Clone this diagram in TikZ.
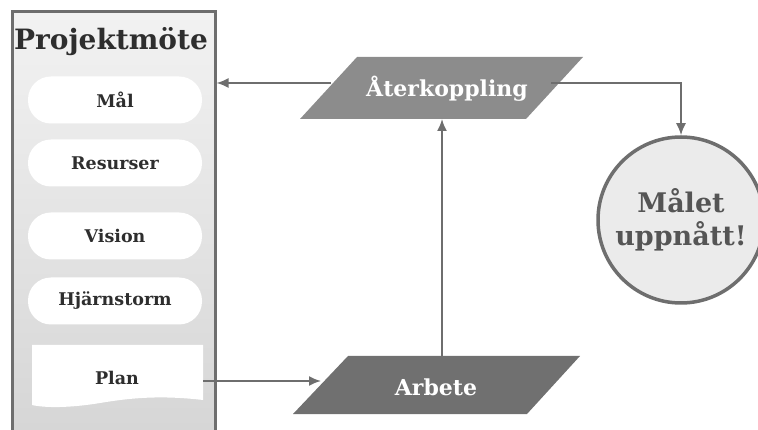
\documentclass[tikz,border=0pt]{standalone}
\usepackage{fontspec}
\setmainfont{DejaVu Serif}
\usetikzlibrary{arrows.meta}
\definecolor{edgegray}{HTML}{6E6E6E}
\definecolor{paraA}{HTML}{8C8C8C}
\definecolor{paraB}{HTML}{707070}
\definecolor{txtdark}{HTML}{2E2E2E}
\definecolor{circtxt}{HTML}{555555}
\definecolor{circfill}{HTML}{EBEBEB}
\definecolor{panTop}{HTML}{F2F2F2}
\definecolor{panBot}{HTML}{D6D6D6}
\tikzset{
  pill/.style={fill=white, rounded corners=23pt, minimum width=174pt, minimum height=47pt, inner sep=0pt,
    font=\fontsize{17.5}{20}\selectfont\bfseries, text=txtdark},
  paratext/.style={font=\fontsize{22}{24}\selectfont\bfseries, text=white},
  conn/.style={draw=edgegray, line width=1.8pt, -{Latex[length=12pt,width=10pt]}},
}
\begin{document}
\begin{tikzpicture}[x=1pt,y=-1pt]
\useasboundingbox (0,0) rectangle (758,430);
% panel
\shade[top color=panTop, bottom color=panBot] (12,12) rectangle (215,430);
\draw[edgegray, line width=3pt] (12,432) -- (12,12) -- (215,12) -- (215,432);
\node[font=\fontsize{28}{30}\selectfont\bfseries, text=txtdark] (title) at (111,42) {Projektmöte};
\node[pill] (mal) at (115,100) {Mål};
\node[pill] (res) at (115,163) {Resurser};
\node[pill] (vis) at (115,236) {Vision};
\node[pill] (hja) at (115,301) {Hjärnstorm};
% plan document shape
\fill[white] (32,345) -- (203,345) -- (203,400) .. controls (160,395) and (130,398) .. (100,403) .. controls (70,408) and (45,408) .. (32,405) -- cycle;
\node[font=\fontsize{17.5}{20}\selectfont\bfseries, text=txtdark] (plan) at (117,378) {Plan};
\coordinate (planR) at (203,381);
% Aterkoppling
\fill[paraA] (357,57) -- (583,57) -- (526,119) -- (300,119) -- cycle;
\node[paratext] (ater) at (447,89) {Återkoppling};
\coordinate (aterL) at (331,83);
\coordinate (aterR) at (551,83);
\coordinate (aterB) at (442,119);
% Arbete
\fill[paraB] (348,356) -- (580,356) -- (527,414) -- (293,414) -- cycle;
\node[paratext] (arb) at (436,387) {Arbete};
\coordinate (arbL) at (321,381);
\coordinate (arbT) at (442,356);
% circle
\node[circle, draw=edgegray, line width=3.5pt, fill=circfill, minimum size=166pt, inner sep=0pt,
  align=center, font=\fontsize{27}{33}\selectfont\bfseries, text=circtxt] (goal) at (681,220) {Målet\\uppnått!};
\coordinate (corner) at (goal.north |- aterR);
\coordinate (panR) at (216.5,83);
% connectors
\draw[conn] (aterL) -- (panR);
\draw[conn] (aterR) -- (corner) -- (goal.north);
\draw[conn] (planR) -- (arbL);
\draw[conn] (arbT) -- (aterB);
\end{tikzpicture}
\end{document}
